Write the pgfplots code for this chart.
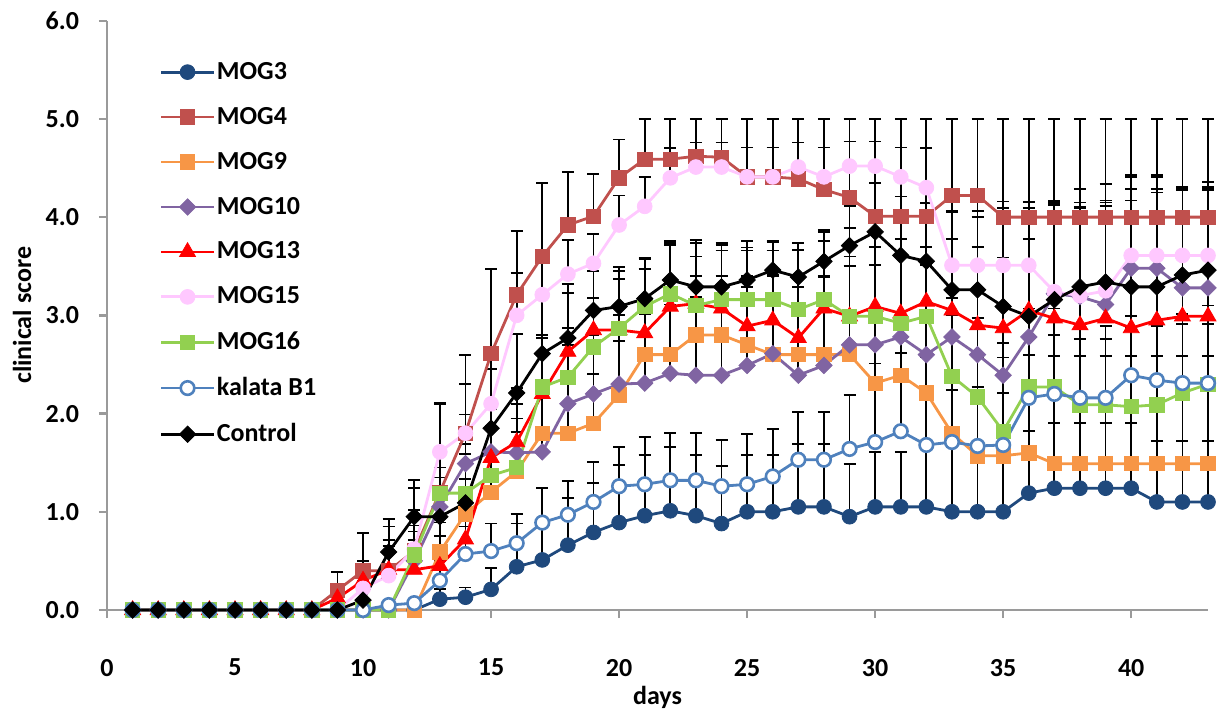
\documentclass[border=0pt]{standalone}
\usepackage{fontspec}
\setmainfont{Carlito}
\usepackage{pgfplots}
\usepackage{pgfplotstable}
\pgfplotsset{compat=1.18}
\definecolor{cA}{HTML}{1F497D}
\definecolor{cB}{HTML}{C0504D}
\definecolor{cC}{HTML}{F79646}
\definecolor{cD}{HTML}{8064A2}
\definecolor{cE}{HTML}{FF0000}
\definecolor{cF}{HTML}{FFC8FF}
\definecolor{cG}{HTML}{92D050}
\definecolor{cH}{HTML}{4F81BD}
\definecolor{axgray}{HTML}{9A9A9A}

\pgfplotstableread{
x y e
1 0 0
2 0 0
3 0 0
4 0 0
5 0 0
6 0 0
7 0 0
8 0 0
9 0 0
10 0 0
11 0 0
12 0 0
13 0.11 0.10
14 0.13 0.10
15 0.21 0.22
16 0.44 0.44
17 0.51 0.35
18 0.66 0.48
19 0.79 0.50
20 0.89 0.59
21 0.96 0.62
22 1.01 0.65
23 0.96 0.62
24 0.88 0.59
25 1.00 0.58
26 1.00 0.58
27 1.05 0.64
28 1.05 0.64
29 0.95 0.54
30 1.05 0.56
31 1.05 0.56
32 1.05 0.60
33 1.00 0.70
34 1.00 0.70
35 1.00 0.70
36 1.19 0.63
37 1.24 0.66
38 1.24 0.66
39 1.24 0.66
40 1.24 0.66
41 1.10 0.62
42 1.10 0.62
43 1.10 0.62
}\mogA

\pgfplotstableread{
x y e
1 0 0
2 0 0
3 0 0
4 0 0
5 0 0
6 0 0
7 0 0
8 0 0
9 0.20 0.19
10 0.40 0.38
11 0.40 0.45
12 0.60 0.64
13 1.20 0.90
14 1.80 0.80
15 2.61 0.86
16 3.21 0.65
17 3.60 0.75
18 3.92 0.54
19 4.01 0.43
20 4.40 0.39
21 4.59 0.41
22 4.59 0.41
23 4.62 0.38
24 4.61 0.39
25 4.41 0.59
26 4.41 0.59
27 4.39 0.61
28 4.28 0.72
29 4.20 0.80
30 4.01 0.99
31 4.01 0.99
32 4.01 0.99
33 4.22 0.78
34 4.22 0.78
35 4.00 1.00
36 4.00 1.00
37 4.00 1.00
38 4.00 1.00
39 4.00 1.00
40 4.00 1.00
41 4.00 1.00
42 4.00 1.00
43 4.00 1.00
}\mogB

\pgfplotstableread{
x y e
1 0 0
2 0 0
3 0 0
4 0 0
5 0 0
6 0 0
7 0 0
8 0 0
9 0 0
10 0 0
11 0 0
12 0 0
13 0.59 0.30
14 0.98 0.35
15 1.20 0.40
16 1.41 0.40
17 1.80 0.45
18 1.80 0.50
19 1.90 0.50
20 2.19 0.55
21 2.60 0.60
22 2.60 0.60
23 2.80 0.60
24 2.80 0.60
25 2.70 0.70
26 2.60 0.80
27 2.60 0.80
28 2.60 0.80
29 2.60 0.90
30 2.31 1.20
31 2.39 1.20
32 2.21 1.30
33 1.80 1.20
34 1.57 1.00
35 1.57 1.00
36 1.60 1.00
37 1.49 1.10
38 1.49 1.10
39 1.49 1.10
40 1.49 1.10
41 1.49 1.10
42 1.49 1.10
43 1.49 1.10
}\mogC

\pgfplotstableread{
x y e
1 0 0
2 0 0
3 0 0
4 0 0
5 0 0
6 0 0
7 0 0
8 0 0
9 0 0
10 0 0
11 0 0
12 0.50 0.30
13 1.05 0.40
14 1.49 0.50
15 1.61 0.50
16 1.60 0.50
17 1.61 0.60
18 2.10 0.60
19 2.20 0.60
20 2.30 0.70
21 2.31 0.70
22 2.41 0.70
23 2.39 0.80
24 2.39 0.80
25 2.49 0.80
26 2.61 0.80
27 2.39 0.90
28 2.49 0.90
29 2.70 0.90
30 2.70 1.00
31 2.78 1.00
32 2.60 1.10
33 2.78 1.00
34 2.60 1.10
35 2.39 1.20
36 2.78 1.00
37 3.22 0.90
38 3.19 0.90
39 3.11 1.00
40 3.48 0.95
41 3.48 0.95
42 3.28 1.00
43 3.28 1.00
}\mogD

\pgfplotstableread{
x y e
1 0 0
2 0 0
3 0 0
4 0 0
5 0 0
6 0 0
7 0 0
8 0 0
9 0.12 0.10
10 0.30 0.20
11 0.41 0.30
12 0.41 0.30
13 0.45 0.30
14 0.72 0.40
15 1.55 0.50
16 1.71 0.55
17 2.20 0.60
18 2.63 0.60
19 2.85 0.60
20 2.85 0.60
21 2.82 0.65
22 3.09 0.65
23 3.12 0.65
24 3.07 0.65
25 2.89 0.80
26 2.95 0.80
27 2.77 0.90
28 3.07 0.80
29 2.99 0.90
30 3.09 0.90
31 3.02 1.00
32 3.14 1.00
33 3.05 1.00
34 2.90 1.10
35 2.87 1.10
36 3.05 1.10
37 2.97 1.20
38 2.90 1.20
39 2.97 1.20
40 2.87 1.30
41 2.95 1.30
42 2.99 1.30
43 2.99 1.30
}\mogE

\pgfplotstableread{
x y e
1 0 0
2 0 0
3 0 0
4 0 0
5 0 0
6 0 0
7 0 0
8 0 0
9 0 0
10 0.22 0.20
11 0.35 0.30
12 0.62 0.40
13 1.61 0.50
14 1.80 0.50
15 2.10 0.50
16 3.00 0.43
17 3.21 0.40
18 3.42 0.35
19 3.53 0.30
20 3.92 0.30
21 4.11 0.30
22 4.40 0.30
23 4.51 0.25
24 4.51 0.25
25 4.41 0.30
26 4.41 0.30
27 4.51 0.25
28 4.41 0.30
29 4.52 0.25
30 4.52 0.25
31 4.41 0.30
32 4.30 0.40
33 3.51 0.65
34 3.51 0.65
35 3.51 0.65
36 3.51 0.65
37 3.24 0.90
38 3.20 0.95
39 3.25 0.90
40 3.61 0.80
41 3.61 0.80
42 3.61 0.70
43 3.61 0.70
}\mogF

\pgfplotstableread{
x y e
1 0 0
2 0 0
3 0 0
4 0 0
5 0 0
6 0 0
7 0 0
8 0 0
9 0 0
10 0 0
11 0 0
12 0.56 0.30
13 1.19 0.40
14 1.19 0.50
15 1.37 0.50
16 1.45 0.50
17 2.27 0.50
18 2.37 0.50
19 2.68 0.50
20 2.87 0.50
21 3.09 0.50
22 3.22 0.50
23 3.10 0.50
24 3.16 0.50
25 3.16 0.50
26 3.16 0.50
27 3.06 0.60
28 3.16 0.60
29 2.99 0.70
30 2.99 0.70
31 2.92 0.70
32 2.99 0.70
33 2.38 0.80
34 2.17 0.80
35 1.82 0.90
36 2.27 0.80
37 2.27 0.80
38 2.09 0.80
39 2.09 0.80
40 2.07 0.80
41 2.09 0.80
42 2.21 0.80
43 2.30 0.80
}\mogG

\pgfplotstableread{
x y e
1 0 0
2 0 0
3 0 0
4 0 0
5 0 0
6 0 0
7 0 0
8 0 0
9 0 0
10 0 0
11 0.05 0
12 0.07 0
13 0.30 0.20
14 0.57 0.28
15 0.60 0.28
16 0.68 0.30
17 0.89 0.35
18 0.97 0.34
19 1.10 0.41
20 1.26 0.40
21 1.28 0.48
22 1.32 0.48
23 1.32 0.48
24 1.26 0.47
25 1.28 0.51
26 1.36 0.48
27 1.53 0.49
28 1.53 0.49
29 1.64 0.55
30 1.71 0.80
31 1.82 0.80
32 1.68 0.90
33 1.71 0.53
34 1.67 0.60
35 1.68 0.53
36 2.16 0.60
37 2.20 0.60
38 2.16 0.60
39 2.16 0.60
40 2.39 0.60
41 2.34 0.60
42 2.31 0.60
43 2.31 0.60
}\kalata

\pgfplotstableread{
x y e
1 0 0
2 0 0
3 0 0
4 0 0
5 0 0
6 0 0
7 0 0
8 0 0
9 0 0
10 0.10 0.20
11 0.59 0.34
12 0.95 0.37
13 0.95 0.40
14 1.09 0.50
15 1.85 0.60
16 2.21 0.60
17 2.61 0.60
18 2.77 0.55
19 3.05 0.45
20 3.09 0.40
21 3.17 0.40
22 3.36 0.40
23 3.29 0.45
24 3.29 0.45
25 3.36 0.40
26 3.46 0.30
27 3.39 0.35
28 3.55 0.30
29 3.71 0.40
30 3.85 0.50
31 3.61 0.60
32 3.55 0.60
33 3.26 0.80
34 3.26 0.80
35 3.09 1.00
36 2.99 1.10
37 3.16 1.00
38 3.29 1.00
39 3.34 1.00
40 3.29 1.00
41 3.29 1.00
42 3.41 0.90
43 3.46 0.90
}\control

\begin{document}
\begin{tikzpicture}
\begin{axis}[
  name=ax,
  scale only axis,
  width=550.5pt, height=294.65pt,
  xmin=0, xmax=43, ymin=0, ymax=6,
  clip=false,
  axis x line*=bottom, axis y line*=left,
  axis line style={draw=axgray, line width=1.3pt},
  tick style={draw=axgray, line width=1.2pt},
  tick align=outside, major tick length=4pt,
  xtick={0,5,...,40}, ytick={0,1,...,6},
  /pgf/number format/assume math mode=true,
  y tick label style={/pgf/number format/fixed, /pgf/number format/fixed zerofill, /pgf/number format/precision=1},
  tick label style={font=\bfseries\fontsize{13}{15}\selectfont, text=black},
  yticklabel style={xshift=-6.5pt},
  xticklabel style={yshift=-17pt},
  xlabel={days}, ylabel={clinical score},
  label style={font=\bfseries\fontsize{13}{15}\selectfont},
  xlabel style={at={([yshift=-43.5pt]axis description cs:0.5,0)}, anchor=center},
  ylabel style={at={([xshift=-42.5pt]axis description cs:0,0.5)}, anchor=center, rotate=0},
  legend style={font=\bfseries\fontsize{13}{15}\selectfont, draw=none, fill=none,
    at={(axis description cs:0.042,0.944)}, anchor=north west, row sep=8.45pt,
    nodes={inner xsep=0.75pt}},
  legend cell align=left,
  legend image code/.code={\draw[mark repeat=2,mark phase=2,#1] plot coordinates {(0pt,0pt) (13.25pt,0pt) (26.5pt,0pt)};},
  eb/.style={forget plot, draw=none, mark=none,
    error bars/.cd, y dir=plus, y explicit,
    error bar style={draw=black, line width=0.9pt},
    error mark options={draw=black, rotate=90, mark size=3pt, line width=0.9pt}},
  ser/.style={line width=1.4pt},
]
% error bars first (behind the series)
\addplot[eb] table[x=x,y=y,y error=e] {\mogA};
\addplot[eb] table[x=x,y=y,y error=e] {\mogB};
\addplot[eb] table[x=x,y=y,y error=e] {\mogC};
\addplot[eb] table[x=x,y=y,y error=e] {\mogD};
\addplot[eb] table[x=x,y=y,y error=e] {\mogE};
\addplot[eb] table[x=x,y=y,y error=e] {\mogF};
\addplot[eb] table[x=x,y=y,y error=e] {\mogG};
\addplot[eb] table[x=x,y=y,y error=e] {\kalata};
\addplot[eb] table[x=x,y=y,y error=e] {\control};
% series
\addplot[ser, color=cA, mark=*, mark size=3.7pt, mark options={solid, line width=0.4pt}] table[x=x,y=y] {\mogA};
\addplot[ser, color=cB, mark=square*, mark size=3.6pt, mark options={solid, line width=0.4pt}] table[x=x,y=y] {\mogB};
\addplot[ser, color=cC, mark=square*, mark size=3.6pt, mark options={solid, line width=0.4pt}] table[x=x,y=y] {\mogC};
\addplot[ser, color=cD, mark=square*, mark size=2.9pt, mark options={solid, rotate=45, line width=0.4pt}] table[x=x,y=y] {\mogD};
\addplot[ser, color=cE, mark=triangle*, mark size=4.6pt, mark options={solid, line width=0.4pt}] table[x=x,y=y] {\mogE};
\addplot[ser, color=cF, mark=*, mark size=3.7pt, mark options={solid, line width=0.4pt}] table[x=x,y=y] {\mogF};
\addplot[ser, color=cG, mark=square*, mark size=3.6pt, mark options={solid, line width=0.4pt}] table[x=x,y=y] {\mogG};
\addplot[ser, color=cH, mark=*, mark size=3.4pt, mark options={solid, fill=white, draw=cH, line width=1.3pt}] table[x=x,y=y] {\kalata};
\addplot[ser, color=black, mark=square*, mark size=2.9pt, mark options={solid, rotate=45, line width=0.4pt}] table[x=x,y=y] {\control};
\legend{MOG3, MOG4, MOG9, MOG10, MOG13, MOG15, MOG16, kalata B1, Control}
\end{axis}
\pgfresetboundingbox
\path[use as bounding box] ([xshift=-53.5pt,yshift=-50.5pt]ax.south west) rectangle ([xshift=5.5pt,yshift=10.35pt]ax.north east);
\end{tikzpicture}
\end{document}
